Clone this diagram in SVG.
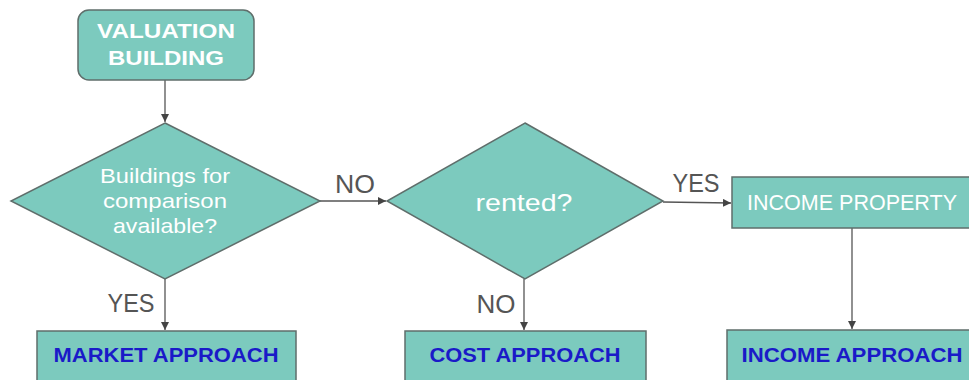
<svg xmlns="http://www.w3.org/2000/svg" width="969" height="380" viewBox="0 0 969 380">
<style>
.n{fill:#7ccabe;stroke:#5f6e6b;stroke-width:1.5}
.w{fill:#ffffff;font-family:"Liberation Sans",Arial,sans-serif;text-anchor:middle}
.b{fill:#1a1ac8;font-family:"Liberation Sans",Arial,sans-serif;font-weight:bold;font-size:21px;text-anchor:middle}
.l{fill:#555555;font-family:"Liberation Sans",Arial,sans-serif;font-size:25px;text-anchor:middle}
.c{stroke:#555555;stroke-width:1.3;fill:none;marker-end:url(#ah)}
</style>
<defs>
<marker id="ah" viewBox="0 0 10 10" refX="10" refY="5" markerWidth="8" markerHeight="8" markerUnits="userSpaceOnUse" orient="auto">
<path d="M0,0 L10,5 L0,10 z" fill="#444444"/>
</marker>
</defs>
<rect width="969" height="380" fill="#ffffff"/>
<g id="connectors">
<line class="c" x1="165" y1="80" x2="165" y2="122"/>
<line class="c" x1="320" y1="201" x2="386" y2="201"/>
<line class="c" x1="663" y1="202" x2="731" y2="203"/>
<line class="c" x1="165" y1="279" x2="165" y2="330"/>
<line class="c" x1="524" y1="279" x2="524" y2="330"/>
<line class="c" x1="852" y1="228" x2="852" y2="329"/>
<text class="l" x="355" y="193" textLength="40" lengthAdjust="spacingAndGlyphs">NO</text>
<text class="l" x="696" y="192" textLength="47" lengthAdjust="spacingAndGlyphs">YES</text>
<text class="l" x="131" y="312" textLength="47" lengthAdjust="spacingAndGlyphs">YES</text>
<text class="l" x="496" y="313" textLength="39" lengthAdjust="spacingAndGlyphs">NO</text>
</g>
<g id="valuation">
<rect class="n" x="78" y="10" width="176" height="70" rx="11"/>
<text class="w" x="166" y="38" font-size="21" font-weight="bold" textLength="138" lengthAdjust="spacingAndGlyphs">VALUATION</text>
<text class="w" x="166" y="65" font-size="21" font-weight="bold" textLength="116" lengthAdjust="spacingAndGlyphs">BUILDING</text>
</g>
<g id="comparison">
<polygon class="n" points="165,123 320,201 165,279 11,201"/>
<text class="w" x="165" y="183" font-size="21" textLength="130" lengthAdjust="spacingAndGlyphs">Buildings for</text>
<text class="w" x="165" y="208" font-size="21" textLength="124" lengthAdjust="spacingAndGlyphs">comparison</text>
<text class="w" x="165" y="233" font-size="21" textLength="104" lengthAdjust="spacingAndGlyphs">available?</text>
</g>
<g id="rented">
<polygon class="n" points="525,123 663,201 525,279 387,201"/>
<text class="w" x="524" y="211" font-size="24" textLength="97" lengthAdjust="spacingAndGlyphs">rented?</text>
</g>
<g id="incomeproperty">
<rect class="n" x="732" y="177" width="245" height="51"/>
<text class="w" x="852" y="210" font-size="22" textLength="210" lengthAdjust="spacingAndGlyphs">INCOME PROPERTY</text>
</g>
<g id="market">
<rect class="n" x="37" y="331" width="259" height="60"/>
<text class="b" x="166" y="362" textLength="225" lengthAdjust="spacingAndGlyphs">MARKET APPROACH</text>
</g>
<g id="cost">
<rect class="n" x="405" y="331" width="241" height="60"/>
<text class="b" x="525" y="362" textLength="191" lengthAdjust="spacingAndGlyphs">COST APPROACH</text>
</g>
<g id="income">
<rect class="n" x="727" y="330" width="250" height="60"/>
<text class="b" x="852" y="362" textLength="221" lengthAdjust="spacingAndGlyphs">INCOME APPROACH</text>
</g>
</svg>
